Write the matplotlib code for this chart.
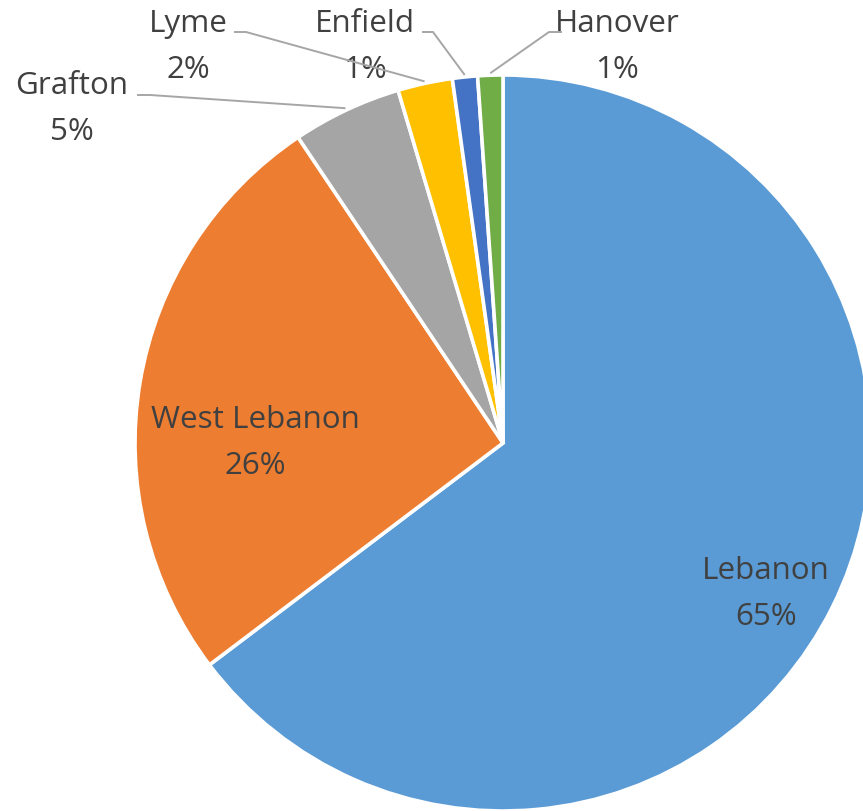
import numpy as np
import matplotlib
matplotlib.use("Agg")
import matplotlib.pyplot as plt

# Data (share of total, clockwise from 12 o'clock)
towns = ["Lebanon", "West Lebanon", "Grafton", "Lyme", "Enfield", "Hanover"]
shares = [64.7, 25.9, 4.8, 2.4, 1.1, 1.1]
colors = ["#5B9BD5", "#ED7D31", "#A5A5A5", "#FFC000", "#4472C4", "#70AD47"]

W, H = 863, 812
fig = plt.figure(figsize=(W / 100, H / 100), dpi=100)
ax = fig.add_axes([0, 0, 1, 1])

cx, cy, R = 503, H - 444, 368
wedges, _ = ax.pie(shares, colors=colors, startangle=90, counterclock=False,
                   center=(cx, cy), radius=R,
                   wedgeprops=dict(edgecolor="white", linewidth=2.6))
ax.set_xlim(0, W)
ax.set_ylim(0, H)
ax.set_aspect("equal")
ax.axis("off")

total = sum(shares)
pcts = [f"{round(v / total * 100)}%" for v in shares]

txt_color = "#404040"
font = dict(family=["Open Sans", "DejaVu Sans"], fontsize=22.6, color=txt_color,
            ha="center", va="center")

# label anchor positions (layout, in pixel coords from top)
label_pos = {
    "Lebanon": (766, 571),
    "West Lebanon": (255, 420),
    "Grafton": (72, 86),
    "Lyme": (188, 24),
    "Enfield": (365, 24),
    "Hanover": (617, 24),
}
gap = 46
for name, pct in zip(towns, pcts):
    x, y = label_pos[name]
    ax.text(x, H - y, name, **font)
    ax.text(x, H - (y + gap), pct, **font)

# leader lines for outside labels: start point (layout), end at wedge mid-angle
leader_start = {
    "Grafton": ((137, 96), (150, 96)),
    "Lyme": ((234, 33), (246, 33)),
    "Enfield": ((422, 33), (433, 33)),
    "Hanover": ((562, 33), (549, 33)),
}
for w, name in zip(wedges, towns):
    if name not in leader_start:
        continue
    mid = np.deg2rad((w.theta1 + w.theta2) / 2)
    ex = cx + (R + 2) * np.cos(mid)
    ey = cy + (R + 2) * np.sin(mid)
    (x0, y0), (x1, y1) = leader_start[name]
    ax.plot([x0, x1, ex], [H - y0, H - y1, ey], color="#A6A6A6", lw=1.4,
            solid_capstyle="butt", zorder=3)

fig.savefig("out.png", dpi=100, facecolor="white")
